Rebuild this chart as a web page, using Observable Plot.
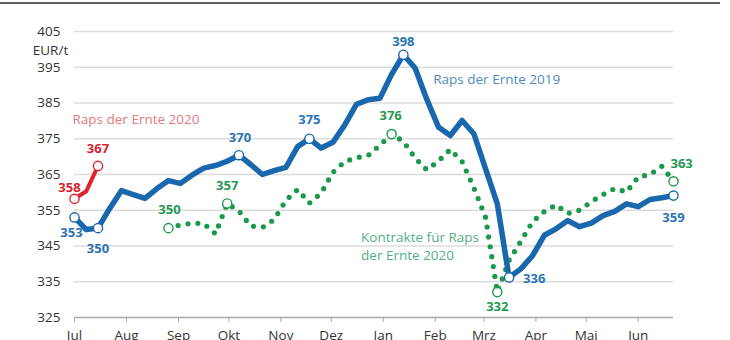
<!DOCTYPE html>
<html><head><meta charset="utf-8">
<script src="https://cdn.jsdelivr.net/npm/d3@7"></script>
<script src="https://cdn.jsdelivr.net/npm/@observablehq/plot@0.6"></script>
<style>
body{margin:0;background:#fff;}
#wrap{position:relative;width:730px;height:340px;overflow:hidden;}
#topline{position:absolute;left:0;top:2px;width:720px;height:2px;background:#5f5f5f;}
</style></head><body>
<div id="wrap"><div id="topline"></div></div>
<script>
// ---- data ----
const startDate = "2019-07-01";   // first weekly quote
const endDate = "2020-06-22";     // last weekly quote
const monthLabels = ["Jul","Aug","Sep","Okt","Nov","Dez","Jan","Feb","Mrz","Apr","Mai","Jun"];
const yTicks = [325,335,345,355,365,375,385,395,405];
const unitLabel = "EUR/t";

// Raps der Ernte 2019 (weekly, from startDate)
const raps2019 = [353,349.6,350,355.5,360.5,359.4,358.3,361,363.3,362.5,364.8,366.8,367.5,368.7,370.4,
  367.8,365,366.1,367,372.8,375,372.4,374,378.8,384.6,385.9,386.3,393,398.5,394.8,386,378.2,375.9,380.1,
  376.4,366.6,356.8,336.2,338.6,342.3,348,349.8,352.1,350.4,351.4,353.5,354.7,356.8,356,358,358.5,359.1];
// Raps der Ernte 2020 (weekly, from startDate)
const raps2020 = [358.2,360.3,367.4];
// Kontrakte für Raps der Ernte 2020 (weekly, starting at week index 8)
const kontrakteStartWeek = 8;
const kontrakte2020 = [350,350.9,351.4,351.3,348.4,356.9,354.8,350.6,350.2,352.4,357.8,360.8,357,359.8,
  365.6,368.6,369.7,370.3,373.2,376.3,374.3,369.6,366.3,368.8,372,368.6,361.3,353,332.1,341,346.3,351.8,
  354.6,356.5,354.1,355,357.4,359.4,361.1,360.1,364.3,365,367.3,363.1];

// labelled points: [week index, text]
const labels2019 = [[0,"353"],[2,"350"],[14,"370"],[20,"375"],[28,"398"],[37,"336"],[51,"359"]];
const labels2020 = [[0,"358"],[2,"367"]];
const labelsKontrakte = [[8,"350"],[13,"357"],[27,"376"],[36,"332"],[51,"363"]];

// series names (annotations): [text, date, value]
const seriesNames = [
  ["Raps der Ernte 2020", "2019-07-01", 380.7, "red"],
  ["Raps der Ernte 2019", "2020-02-01", 391.9, "blue"],
  ["Kontrakte für Raps\nder Ernte 2020", "2019-12-20", 345.1, "green"]
];

// ---- build ----
const C = {
  blue: "#1967ad", red: "#e3232b", green: "#19994a",
  blueLab: "#2b73b3", redLab: "#d8242c", greenLab: "#1f9a52",
  blueName: "#4f8bbf", redName: "#e57b7c", greenName: "#53b07f"
};
const t0 = new Date(startDate);
const week = i => d3.utcDay.offset(t0, 7 * i);
const s2019 = raps2019.map((v, i) => ({date: week(i), value: v, i}));
const s2020 = raps2020.map((v, i) => ({date: week(i), value: v, i}));
const sK = kontrakte2020.map((v, i) => ({date: week(i + kontrakteStartWeek), value: v, i: i + kontrakteStartWeek}));
const pick = (series, lab) => lab.map(([i, t]) => ({...series.find(d => d.i === i), text: t}));
const L2019 = pick(s2019, labels2019), L2020 = pick(s2020, labels2020), LK = pick(sK, labelsKontrakte);

// label placement (style only)
const place = {
  "b0": [-3, 15, "middle"], "b2": [0, 21, "middle"], "b14": [1, -17, "middle"], "b20": [0, -19, "middle"],
  "b28": [0, -13, "middle"], "b37": [14, 1, "start"], "b51": [0, 22, "middle"],
  "r0": [-5, -11, "middle"], "r2": [0, -17, "middle"],
  "g8": [1, -18, "middle"], "g13": [0, -18, "middle"], "g27": [-1, -18, "middle"], "g36": [0, 15, "middle"], "g51": [-3, -17, "start"]
};
function labelMarks(data, key, fill) {
  return data.map(d => {
    const [dx, dy, anchor] = place[key + d.i];
    return Plot.text([d], {x: "date", y: "value", text: "text", dx, dy, textAnchor: anchor,
      fill, fontWeight: 700, fontSize: 13, fontFamily: "Open Sans"});
  });
}

const monthTicks = d3.utcMonth.range(t0, d3.utcDay.offset(new Date(endDate), 1));
const fmtMonth = d => monthLabels[monthTicks.findIndex(m => +m === +d)];

const chart = Plot.plot({
  width: 730, height: 340,
  marginLeft: 74, marginRight: 57, marginTop: 31, marginBottom: 23,
  style: {fontFamily: "Open Sans", background: "transparent", overflow: "visible"},
  x: {type: "utc", domain: [t0, new Date(endDate)]},
  y: {domain: [325, 405]},
  marks: [
    Plot.gridY(yTicks.slice(1), {stroke: "#dcdcdc", strokeOpacity: 1, strokeWidth: 1.3}),
    Plot.ruleY([yTicks[0]], {stroke: "#a8a8a8", strokeWidth: 1.3}),
    Plot.axisY(yTicks, {tickSize: 0, tickPadding: 14, fontSize: 13.5, fill: "#333", label: null}),
    Plot.axisX(monthTicks, {tickSize: 5, tickPadding: 8, stroke: "#a8a8a8", fontSize: 13.5, fill: "#333",
      tickFormat: fmtMonth, label: null}),
    Plot.text([unitLabel], {frameAnchor: "left", y: [399.7], text: d => d, dx: -24, textAnchor: "middle",
      fontSize: 13.5, fill: "#333"}),
    Plot.line(sK, {x: "date", y: "value", stroke: C.green, strokeWidth: 5.2, strokeDasharray: "0 10",
      strokeLinecap: "round", strokeLinejoin: "round"}),
    Plot.line(s2019, {x: "date", y: "value", stroke: C.blue, strokeWidth: 5.5, strokeLinejoin: "round"}),
    Plot.line(s2020, {x: "date", y: "value", stroke: C.red, strokeWidth: 4, strokeLinejoin: "round"}),
    Plot.dot(LK, {x: "date", y: "value", r: 4.6, fill: "white", stroke: C.green, strokeWidth: 1.4}),
    Plot.dot(L2019, {x: "date", y: "value", r: 4.6, fill: "white", stroke: C.blue, strokeWidth: 1.4}),
    Plot.dot(L2020, {x: "date", y: "value", r: 4.6, fill: "white", stroke: C.red, strokeWidth: 1.4}),
    ...labelMarks(L2019, "b", C.blueLab),
    ...labelMarks(L2020, "r", C.redLab),
    ...labelMarks(LK, "g", C.greenLab),
    ...seriesNames.map(([t, d, v, c]) => Plot.text([{t, date: new Date(d), value: v}], {
      x: "date", y: "value", text: "t", textAnchor: "start", dx: -2, lineHeight: 1.33,
      fontSize: 13.5, fill: C[c + "Name"]}))
  ]
});
document.getElementById("wrap").appendChild(chart);
</script>
</body></html>
